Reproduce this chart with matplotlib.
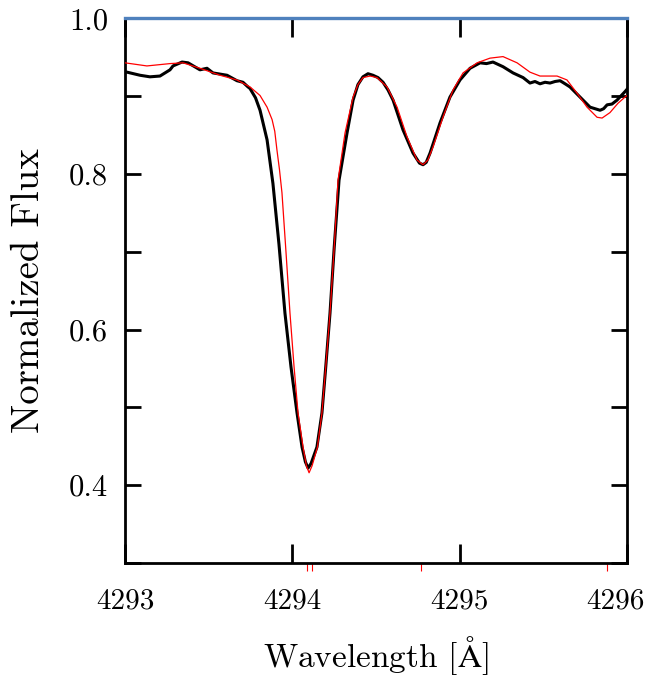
import matplotlib
matplotlib.use("Agg")
import matplotlib.pyplot as plt
import matplotlib.transforms as mtransforms
from matplotlib.ticker import MultipleLocator

plt.rcParams['font.family'] = ['cmr10', 'DejaVu Serif']
plt.rcParams['mathtext.fontset'] = 'cm'
plt.rcParams['axes.formatter.use_mathtext'] = True

# observed spectrum (black), wavelength offset from 4293 A
obs_dw = [0.000, 0.012, 0.090, 0.149, 0.209, 0.269, 0.287, 0.341, 0.377, 0.448,
          0.490, 0.526, 0.610, 0.669, 0.705, 0.735, 0.747, 0.780, 0.807, 0.849,
          0.884, 0.920, 0.956, 0.992, 1.028, 1.058, 1.078, 1.094, 1.112, 1.147,
          1.177, 1.200, 1.225, 1.250, 1.279, 1.327, 1.363, 1.392, 1.422, 1.452,
          1.482, 1.512, 1.542, 1.572, 1.602, 1.661, 1.721, 1.760, 1.781, 1.800,
          1.823, 1.883, 1.942, 2.002, 2.062, 2.122, 2.160, 2.199, 2.259, 2.319,
          2.379, 2.420, 2.450, 2.480, 2.510, 2.540, 2.570, 2.600, 2.630, 2.659,
          2.719, 2.779, 2.839, 2.860, 2.881, 2.910, 2.940, 2.988, 3.000]
obs_flux = [0.931, 0.931, 0.927, 0.925, 0.926, 0.934, 0.939, 0.944, 0.943, 0.934,
            0.936, 0.930, 0.927, 0.920, 0.918, 0.912, 0.910, 0.898, 0.882, 0.844,
            0.788, 0.710, 0.621, 0.552, 0.493, 0.449, 0.430, 0.422, 0.428, 0.449,
            0.493, 0.553, 0.621, 0.705, 0.792, 0.853, 0.895, 0.915, 0.925, 0.929,
            0.927, 0.924, 0.918, 0.908, 0.895, 0.857, 0.827, 0.814, 0.812, 0.815,
            0.827, 0.866, 0.899, 0.921, 0.936, 0.943, 0.942, 0.944, 0.938, 0.930,
            0.924, 0.917, 0.919, 0.916, 0.918, 0.917, 0.919, 0.920, 0.916, 0.912,
            0.899, 0.886, 0.882, 0.884, 0.889, 0.890, 0.895, 0.906, 0.909]

# synthetic spectrum (red)
mod_dw = [0.000, 0.131, 0.269, 0.347, 0.448, 0.568, 0.669, 0.747, 0.807, 0.849,
          0.879, 0.895, 0.908, 0.923, 0.938, 0.962, 0.986, 1.010, 1.034, 1.064,
          1.084, 1.100, 1.118, 1.150, 1.177, 1.200, 1.225, 1.250, 1.273, 1.315,
          1.363, 1.392, 1.422, 1.465, 1.506, 1.566, 1.626, 1.685, 1.745, 1.781,
          1.810, 1.841, 1.900, 1.960, 2.020, 2.104, 2.181, 2.259, 2.343, 2.420,
          2.480, 2.582, 2.641, 2.701, 2.761, 2.821, 2.851, 2.898, 2.946, 2.988,
          3.000]
mod_flux = [0.943, 0.939, 0.942, 0.943, 0.936, 0.927, 0.921, 0.912, 0.901, 0.886,
            0.870, 0.855, 0.831, 0.806, 0.776, 0.700, 0.621, 0.553, 0.493, 0.449,
            0.425, 0.416, 0.425, 0.449, 0.493, 0.553, 0.621, 0.705, 0.792, 0.853,
            0.899, 0.915, 0.924, 0.926, 0.924, 0.912, 0.886, 0.848, 0.818, 0.812,
            0.818, 0.835, 0.873, 0.908, 0.930, 0.943, 0.949, 0.951, 0.943, 0.931,
            0.926, 0.926, 0.921, 0.904, 0.886, 0.873, 0.872, 0.879, 0.891, 0.899,
            0.901]

# line positions marked under the axis
line_dw = [1.09, 1.12, 1.77, 2.88]

w0 = 4293
obs_w = [w0 + d for d in obs_dw]
mod_w = [w0 + d for d in mod_dw]
line_w = [w0 + d for d in line_dw]

fig = plt.figure(figsize=(6.52, 6.77), dpi=100)
ax = fig.add_axes([0.1917, 0.1684, 0.77, 0.8043])

ax.plot(obs_w, obs_flux, color='black', lw=2.2, zorder=3)
ax.plot(mod_w, mod_flux, color='red', lw=0.9, zorder=4)
ax.axhline(1.0, color='#4f81bd', lw=2.4, clip_on=False, zorder=5)
ax.vlines(line_w, -0.014, 0.0, color='red', lw=0.8,
          transform=ax.get_xaxis_transform(), clip_on=False)

ax.set_xlim(4293, 4296)
ax.set_ylim(0.3, 1.0)
ax.set_xticks([4293, 4294, 4295, 4296])
ax.yaxis.set_major_locator(MultipleLocator(0.2))
ax.yaxis.set_minor_locator(MultipleLocator(0.1))
ax.xaxis.set_major_formatter(plt.FuncFormatter(lambda v, p: '%d' % v))
ax.yaxis.set_major_formatter(plt.FuncFormatter(lambda v, p: '%.1f' % v))

ax.tick_params(axis='x', which='major', direction='in', top=True, length=14,
               width=2, labelsize=21, pad=18)
ax.tick_params(axis='y', which='both', direction='in', right=True, length=11.5,
               width=2, labelsize=22, pad=12)
for s in ['left', 'right', 'bottom']:
    ax.spines[s].set_linewidth(2)
ax.spines['top'].set_visible(False)

ax.set_xlabel(r'Wavelength [$\mathrm{\AA}$]', fontsize=24, labelpad=14)
ax.set_ylabel('Normalized Flux', fontsize=28, labelpad=16)

# last x label sits against the right edge, nudge it left so it fits
fig.canvas.draw()
last = ax.xaxis.get_major_ticks()[-1].label1
last.set_transform(last.get_transform() +
                   mtransforms.ScaledTranslation(-8 / 72, 0, fig.dpi_scale_trans))

fig.savefig('out.png', dpi=100)
